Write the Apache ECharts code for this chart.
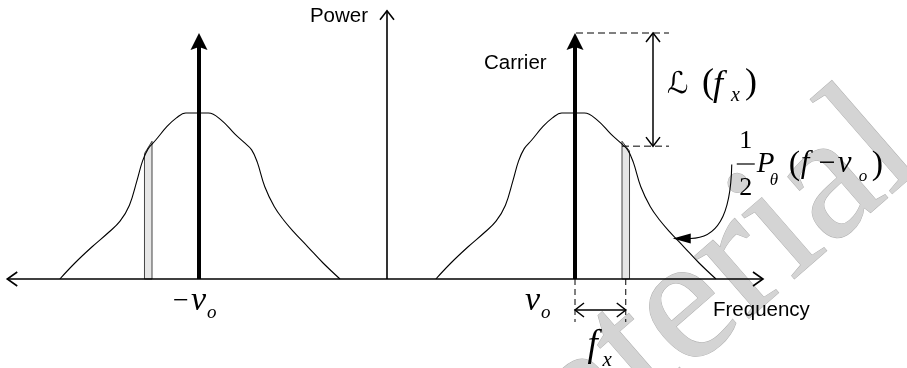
<!DOCTYPE html>
<html>
<head>
<meta charset="utf-8">
<script src="https://cdn.jsdelivr.net/npm/echarts@6/dist/echarts.min.js"></script>
<style>
  html, body { margin: 0; padding: 0; background: #ffffff; }
  #chart { width: 907px; height: 368px; }
</style>
</head>
<body>
<div id="chart"></div>
<script>
// Carrier position (normalised frequency) and carrier power
const carrierFreq = 1.0;
const carrierLevel = 1.0;

// Phase-noise sideband shape around each carrier: offset from carrier, relative power
const sidebandOffset = [-0.74, -0.66, -0.57, -0.48, -0.42, -0.37, -0.33, -0.30, -0.27, -0.23, -0.17, -0.12, -0.07,
                        0.05, 0.12, 0.19, 0.24, 0.28, 0.31, 0.35, 0.40, 0.45, 0.50, 0.58, 0.66, 0.75];
const sidebandLevel  = [0.00, 0.065, 0.13, 0.19, 0.235, 0.30, 0.40, 0.48, 0.53, 0.565, 0.62, 0.655, 0.675,
                        0.675, 0.645, 0.59, 0.555, 0.525, 0.475, 0.375, 0.295, 0.24, 0.195, 0.13, 0.065, 0.00];

// Offset frequency f_x, width of the 1 Hz measurement slice, and slice heights (left edge, right edge)
const offsetFx = 0.27;
const sliceHalfWidth = 0.02;
const lowerSliceTop = [0.51, 0.56];
const upperSliceTop = [0.56, 0.52];
// Sideband level at f_x used for the L(f_x) marker
const noiseLevelAtFx = 0.54;
// Point on the upper sideband picked out by the curved pointer (offset, level)
const pointerTarget = [0.52, 0.165];

// Axis extents
const freqAxisMin = -2.02;
const freqAxisMax = 2.0;
const powerAxisMax = 1.09;

const chart = echarts.init(document.getElementById('chart'), null, { renderer: 'canvas' });

const sideband = c => sidebandOffset.map((d, i) => [c + d, sidebandLevel[i]]);
const slices = [
  [-carrierFreq - offsetFx, lowerSliceTop[0], lowerSliceTop[1]],
  [carrierFreq + offsetFx, upperSliceTop[0], upperSliceTop[1]]
];
const carriers = [[-carrierFreq, carrierLevel], [carrierFreq, carrierLevel]];

chart.setOption({
  animation: false,
  backgroundColor: '#ffffff',
  grid: { left: 11, top: 33, width: 752, height: 246 },
  xAxis: { type: 'value', min: -2, max: 2, show: false },
  yAxis: { type: 'value', min: 0, max: 1, show: false },
  series: [
    {
      type: 'custom', name: 'slices', z: 1, silent: true,
      data: slices,
      renderItem: (params, api) => {
        const c = api.value(0), tl = api.value(1), tr = api.value(2);
        return {
          type: 'polygon',
          shape: { points: [
            api.coord([c - sliceHalfWidth, 0]), api.coord([c - sliceHalfWidth, tl]),
            api.coord([c + sliceHalfWidth, tr]), api.coord([c + sliceHalfWidth, 0])
          ] },
          style: { fill: '#e6e6e6', stroke: '#444444', lineWidth: 1 }
        };
      }
    },
    {
      type: 'line', name: 'lower sideband', z: 2, silent: true,
      data: sideband(-carrierFreq), symbol: 'none', smooth: 0.4,
      lineStyle: { color: '#000', width: 1.1 }
    },
    {
      type: 'line', name: 'upper sideband', z: 2, silent: true,
      data: sideband(carrierFreq), symbol: 'none', smooth: 0.4,
      lineStyle: { color: '#000', width: 1.1 }
    },
    {
      type: 'custom', name: 'carriers', z: 3, silent: true,
      data: carriers,
      renderItem: (params, api) => {
        const base = api.coord([api.value(0), 0]);
        const tip = api.coord([api.value(0), api.value(1)]);
        return {
          type: 'group',
          children: [
            { type: 'line', shape: { x1: base[0], y1: base[1], x2: tip[0], y2: tip[1] + 12 },
              style: { stroke: '#000', lineWidth: 4 } },
            { type: 'polygon', shape: { points: [[tip[0], tip[1]], [tip[0] - 8.5, tip[1] + 17], [tip[0], tip[1] + 14], [tip[0] + 8.5, tip[1] + 17]] },
              style: { fill: '#000' } }
          ]
        };
      }
    }
  ]
});

// ---- annotations placed through the grid's coordinate system ----
const P = (x, y) => chart.convertToPixel({ gridIndex: 0 }, [x, y]);
const ink = '#000';
const g = [];
const serif = '"Liberation Serif", "Times New Roman", serif';
const sans = '"Liberation Sans", Arial, sans-serif';

function seg(a, b, w, dash) {
  g.push({ type: 'line', z: 10, silent: true,
    shape: { x1: a[0], y1: a[1], x2: b[0], y2: b[1] },
    style: { stroke: ink, lineWidth: w, lineDash: dash || null } });
}
function head(tip, dx, dy, len, half, w) {
  const bx = tip[0] - dx * len, by = tip[1] - dy * len, nx = -dy, ny = dx;
  g.push({ type: 'polyline', z: 10, silent: true,
    shape: { points: [[bx + nx * half, by + ny * half], [tip[0], tip[1]], [bx - nx * half, by - ny * half]] },
    style: { stroke: ink, lineWidth: w, fill: null } });
}
function txt(x, base, str, size, opts) {
  opts = opts || {};
  const family = opts.family || serif;
  const style = (opts.italic ? 'italic ' : '') + size + 'px ' + family;
  g.push({ type: 'text', z: 12, silent: true,
    style: { text: str, x: x, y: base - size * 0.33, font: style, fill: opts.fill || ink,
      align: opts.align || 'left', verticalAlign: 'middle',
      textAlign: opts.align || 'left', textVerticalAlign: 'middle' } });
}

const origin = P(0, 0);
const y0 = origin[1];
const axL = P(freqAxisMin, 0), axR = P(freqAxisMax, 0);
const pTop = P(0, powerAxisMax);

// watermark lettering across the lower right
g.push({ type: 'text', z: 0, silent: true, x: 837, y: 97, rotation: 0.716,
  style: { text: 'material', x: -565, y: 62, font: '180px ' + serif, fill: '#d4d4d4', stroke: '#b0b0b0', lineWidth: 1,
    align: 'left', verticalAlign: 'middle', textAlign: 'left', textVerticalAlign: 'middle' } });

// frequency and power axes
seg(axL, axR, 1.6);
head(axR, 1, 0, 10, 7, 1.6);
head(axL, -1, 0, 10, 7, 1.6);
seg(origin, pTop, 1.6);
head(pTop, 0, -1, 9, 7, 1.6);

// L(f_x) marker between carrier top and sideband level at f_x
const cx = P(carrierFreq, 0)[0];
const topY = P(carrierFreq, carrierLevel)[1];
const noiseY = P(carrierFreq, noiseLevelAtFx)[1];
const sliceX = P(carrierFreq + offsetFx - sliceHalfWidth, 0)[0];
const dimX = cx + 78;
seg([cx + 1, topY], [cx + 94, topY], 1, [7, 4]);
seg([sliceX, noiseY], [cx + 94, noiseY], 1, [7, 4]);
seg([dimX, topY], [dimX, noiseY], 1.5);
head([dimX, topY], 0, -1, 9, 7, 1.5);
head([dimX, noiseY], 0, 1, 9, 7, 1.5);

// f_x dimension below the axis
const fxX = P(carrierFreq + offsetFx, 0)[0];
seg([cx, y0], [cx, y0 + 43], 1, [6, 4]);
seg([fxX, y0], [fxX, y0 + 43], 1, [6, 4]);
seg([cx, y0 + 31], [fxX, y0 + 31], 1.5);
head([cx, y0 + 31], -1, 0, 9, 7, 1.5);
head([fxX, y0 + 31], 1, 0, 9, 7, 1.5);

// curved pointer to the sideband
const tip = P(carrierFreq + pointerTarget[0], pointerTarget[1]);
g.push({ type: 'bezierCurve', z: 10, silent: true,
  shape: { x1: tip[0] + 59, y1: tip[1] - 74, cpx1: tip[0] + 58, cpy1: tip[1] - 22,
           cpx2: tip[0] + 44, cpy2: tip[1] + 1, x2: tip[0] + 16, y2: tip[1] },
  style: { stroke: ink, lineWidth: 1.1, fill: null } });
g.push({ type: 'polygon', z: 10, silent: true,
  shape: { points: [[tip[0], tip[1]], [tip[0] + 18, tip[1] - 5], [tip[0] + 18, tip[1] + 5]] },
  style: { fill: ink } });

// plain labels
txt(pTop[0] - 19, 23, 'Power', 20.5, { family: sans, align: 'right' });
txt(cx - 91, 70, 'Carrier', 20.5, { family: sans });
txt(axR[0] - 50, 317, 'Frequency', 20.5, { family: sans });

// carrier frequency labels
txt(cx - 50, y0 + 33, 'ν', 34, { italic: true });
txt(cx - 34, y0 + 40, 'o', 19, { italic: true });
const lx = P(-carrierFreq, 0)[0];
txt(lx - 26, y0 + 32, '−', 28);
txt(lx - 8, y0 + 33, 'ν', 34, { italic: true });
txt(lx + 8, y0 + 40, 'o', 19, { italic: true });

// f_x label
const mid = (cx + fxX) / 2;
txt(mid - 13, y0 + 79, 'f', 37, { italic: true });
txt(mid + 2, y0 + 88, 'x', 21, { italic: true });

// L(f_x) label
txt(dimX + 14, 95, 'ℒ', 30, { family: '"DejaVu Serif", "DejaVu Sans", serif', italic: true });
txt(dimX + 49, 95, '(', 36);
txt(dimX + 60, 97, 'f', 36, { italic: true });
txt(dimX + 78, 102, 'x', 20, { italic: true });
txt(dimX + 92, 95, ')', 36);

// (1/2) P_theta(f - nu_o) label
const fx0 = tip[0] + 64;
txt(fx0 + 9, 150, '1', 26, { align: 'center' });
seg([fx0, 164], [fx0 + 18, 164], 1.2);
txt(fx0 + 9, 197, '2', 26, { align: 'center' });
txt(fx0 + 20, 174, 'P', 29, { italic: true });
txt(fx0 + 33, 186, 'θ', 17, { italic: true });
txt(fx0 + 52, 176, '(', 34);
txt(fx0 + 64, 174, 'f', 31, { italic: true });
txt(fx0 + 82, 174, '−', 30);
txt(fx0 + 101, 174, 'ν', 31, { italic: true });
txt(fx0 + 122, 182, 'o', 17, { italic: true });
txt(fx0 + 135, 176, ')', 34);

chart.setOption({ graphic: { elements: g } });
</script>
</body>
</html>
